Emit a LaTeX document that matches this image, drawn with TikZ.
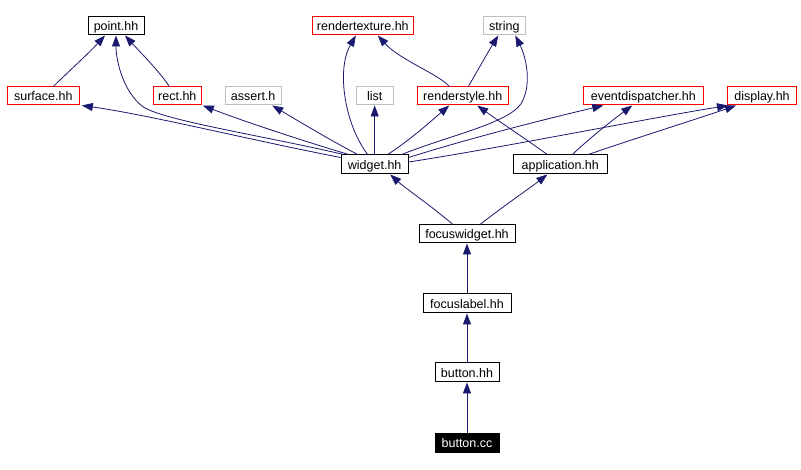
\documentclass[tikz,border=0pt]{standalone}
\usepackage{fontspec}
\setmainfont{Liberation Sans}
\usetikzlibrary{arrows.meta}
\definecolor{edgeblue}{RGB}{25,25,112}
\definecolor{boxgray}{RGB}{191,191,191}
\definecolor{boxred}{RGB}{255,0,0}
\begin{document}
\begin{tikzpicture}[x=1pt,y=-1pt,
  box/.style={draw=black,line width=1pt,minimum height=18pt,inner sep=0pt,
    text height=10.5pt,text depth=1pt,
    font=\fontsize{12.5}{14}\selectfont,fill=white},
  redbox/.style={box,draw=boxred},
  graybox/.style={box,draw=boxgray},
  dep/.style={draw=edgeblue,line width=0.8pt,-{Triangle[length=11pt,width=8pt]}}]
\useasboundingbox[fill=white] (0,0) rectangle (801,470);
% top row
\node[box,minimum width=56pt] (point) at (116,26) {point.hh};
\node[redbox,minimum width=101pt] (rtex) at (362.8,26) {rendertexture.hh};
\node[graybox,minimum width=42pt] (string) at (504.3,26) {string};
% second row
\node[redbox,minimum width=72pt] (surface) at (43.3,96) {surface.hh};
\node[redbox,minimum width=48pt] (rect) at (177.3,96) {rect.hh};
\node[graybox,minimum width=56pt] (assert) at (253.2,96) {assert.h};
\node[graybox,minimum width=37pt] (list) at (374.7,96) {list};
\node[redbox,minimum width=91pt] (rstyle) at (462.8,96) {renderstyle.hh};
\node[redbox,minimum width=120pt] (evd) at (643.3,96) {eventdispatcher.hh};
\node[redbox,minimum width=69.5pt] (display) at (762,96) {display.hh};
% middle
\node[box,minimum width=67pt,minimum height=19pt] (widget) at (374.7,164.5) {widget.hh};
\node[box,minimum width=94pt,minimum height=19pt] (app) at (560.3,164.5) {application.hh};
\node[box,minimum width=96pt] (fwidget) at (467,234) {focuswidget.hh};
\node[box,minimum width=88pt,minimum height=19pt] (flabel) at (467,303.5) {focuslabel.hh};
\node[box,minimum width=64pt,minimum height=19pt] (buttonhh) at (467,372.5) {button.hh};
\node[box,fill=black,text=white,minimum width=64pt,minimum height=19pt] (buttoncc) at (467,442.5) {button.cc};
% edges
\draw[dep] ([xshift=10pt]surface.north) .. controls (68,72) and (88,54) .. ([xshift=-11pt]point.south);
\draw[dep] ([xshift=-8pt]rect.north) .. controls (160,72) and (140,52) .. ([xshift=9pt]point.south);
\draw[dep] ([xshift=3pt]widget.north west) .. controls (260,135) and (160,120) .. (142,106)
   .. controls (124,92) and (116,62) .. (point.south);
\draw[dep] ([yshift=-3pt]widget.north west) .. controls (250,140) and (150,115) .. ([xshift=2pt]surface.south east);
\draw[dep] ([xshift=8pt]widget.north west) .. controls (300,140) and (240,120) .. ([xshift=1pt]rect.south east);
\draw[dep] ([xshift=-17pt]widget.north) .. controls (330,140) and (300,122) .. ([xshift=19pt]assert.south);
\draw[dep] (widget.north) -- (list.south);
\draw[dep] ([xshift=-7pt]widget.north) .. controls (345,125) and (336,70) .. ([xshift=-7pt]rtex.south);
\draw[dep] ([xshift=13pt]widget.north) .. controls (410,140) and (430,122) .. ([xshift=-13.5pt]rstyle.south);
\draw[dep] ([xshift=-7pt]widget.north east) .. controls (450,135) and (515,122) .. (523,100)
   .. controls (532,80) and (525,55) .. ([xshift=11pt]string.south);
\draw[dep] ([yshift=-3pt]widget.north east) .. controls (470,138) and (550,118) .. ([xshift=-40pt]evd.south);
\draw[dep] ([yshift=2.5pt]widget.east) .. controls (500,148) and (650,118) .. ([xshift=-34pt]display.south);
\draw[dep] ([xshift=-13pt]app.north) .. controls (530,142) and (500,122) .. ([xshift=14.5pt]rstyle.south);
\draw[dep] ([xshift=12pt]app.north) .. controls (590,138) and (610,122) .. ([xshift=-11pt]evd.south);
\draw[dep] ([xshift=28pt]app.north) .. controls (630,140) and (700,118) .. ([xshift=-26pt]display.south);
\draw[dep] ([xshift=-13.5pt]rstyle.north) .. controls (440,75) and (400,60) .. ([xshift=15pt]rtex.south);
\draw[dep] ([xshift=5.5pt]rstyle.north) .. controls (478,70) and (488,52) .. ([xshift=-6pt]string.south);
\draw[dep] ([xshift=-14pt]fwidget.north) .. controls (430,205) and (405,188) .. ([xshift=15.5pt]widget.south);
\draw[dep] ([xshift=13pt]fwidget.north) .. controls (505,205) and (530,188) .. ([xshift=-13pt]app.south);
\draw[dep] (flabel.north) -- (fwidget.south);
\draw[dep] (buttonhh.north) -- (flabel.south);
\draw[dep] (buttoncc.north) -- (buttonhh.south);
\end{tikzpicture}
\end{document}
